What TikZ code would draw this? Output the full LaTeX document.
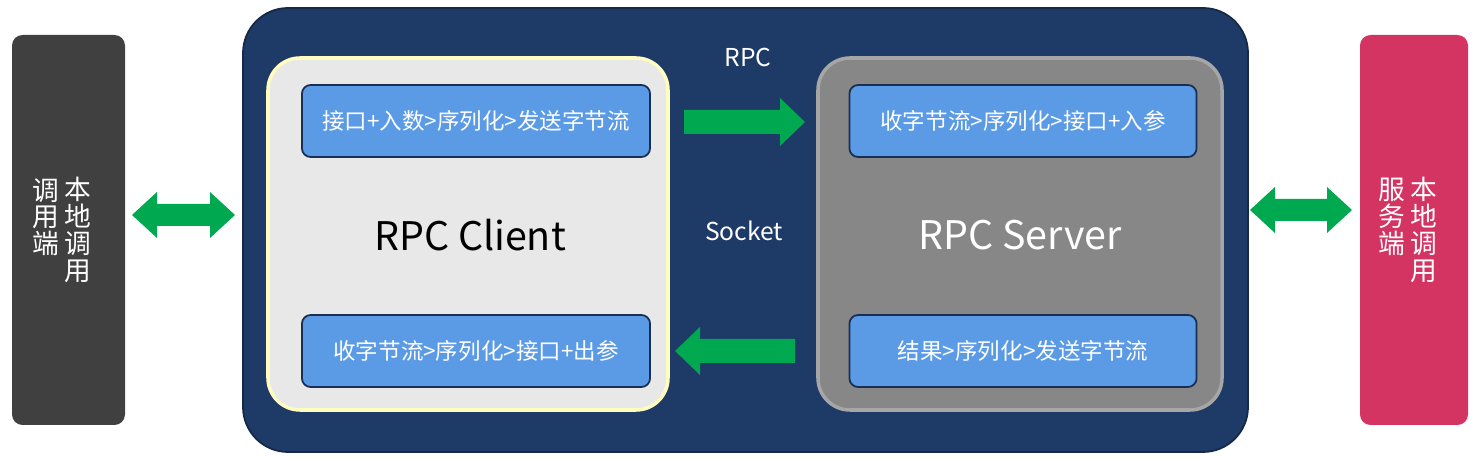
\documentclass[tikz,border=0pt]{standalone}
\usepackage{fontspec}
\setmainfont{Noto Sans CJK SC}
\definecolor{navy}{HTML}{1E3A66}
\definecolor{blu}{HTML}{5B9BE6}
\definecolor{grn}{HTML}{00A84F}
\definecolor{pink}{HTML}{D33462}
\tikzset{
  px/.style={x=0.01cm,y=-0.01cm},
  sbox/.style={draw=navy!80!black,line width=0.5pt,fill=blu,rounded corners=2.5pt,text=white,font=\fontsize{6.4pt}{7.5pt}\selectfont,inner sep=0pt},
  vt/.style={text=white,font=\fontsize{7.6pt}{7.6pt}\selectfont,align=center,inner sep=0pt},
  arr/.style={fill=grn}
}
\begin{document}
\begin{tikzpicture}[px]
\useasboundingbox (0,0) rectangle (1478,458);
\fill[black!75,rounded corners=3pt] (12,35) rectangle (125,425);
\node[vt] (l1) at (78,230) {本\\地\\调\\用};
\node[vt] (l2) at (46,217) {调\\用\\端};
\fill[pink,rounded corners=3pt] (1360,35) rectangle (1468,425);
\node[vt] (r1) at (1424,230) {本\\地\\调\\用};
\node[vt] (r2) at (1392,217) {服\\务\\端};
\fill[navy,draw=navy!70!black,line width=0.5pt,rounded corners=0.45cm] (243,8) rectangle (1248,452);
\node[text=white,font=\fontsize{7pt}{8pt}\selectfont] (rpc) at (748,57) {RPC};
\node[text=white,font=\fontsize{7pt}{8pt}\selectfont] (sock) at (744,231) {Socket};
\filldraw[fill=black!9,draw=yellow!25!white,line width=1pt,rounded corners=0.32cm] (268,58) rectangle (668,410);
\filldraw[fill=black!47,draw=black!35,line width=1pt,rounded corners=0.32cm] (818,58) rectangle (1222,410);
\node[font=\fontsize{11.2pt}{13pt}\selectfont] (cl) at (470,235) {RPC Client};
\node[text=white,font=\fontsize{11.2pt}{13pt}\selectfont] (sv) at (1020,235) {RPC Server};
\node[sbox,minimum width=3.48cm,minimum height=0.72cm] (a) at (476,121) {接口+入数>序列化>发送字节流};
\node[sbox,minimum width=3.48cm,minimum height=0.72cm] (b) at (476,351) {收字节流>序列化>接口+出参};
\node[sbox,minimum width=3.47cm,minimum height=0.72cm] (c) at (1023,121) {收字节流>序列化>接口+入参};
\node[sbox,minimum width=3.47cm,minimum height=0.72cm] (d) at (1023,351) {结果>序列化>发送字节流};
% arrows
\fill[arr] (684,110) -- (780,110) -- (780,98) -- (805,122) -- (780,146) -- (780,134) -- (684,134) -- cycle;
\fill[arr] (795,339) -- (700,339) -- (700,327) -- (675,351) -- (700,375) -- (700,363) -- (795,363) -- cycle;
\fill[arr] (132,215) -- (157,192) -- (157,204) -- (210,204) -- (210,192) -- (235,215) -- (210,238) -- (210,226) -- (157,226) -- (157,238) -- cycle;
\fill[arr] (1250,210) -- (1275,187) -- (1275,199) -- (1327,199) -- (1327,187) -- (1352,210) -- (1327,233) -- (1327,221) -- (1275,221) -- (1275,233) -- cycle;
\end{tikzpicture}
\end{document}
